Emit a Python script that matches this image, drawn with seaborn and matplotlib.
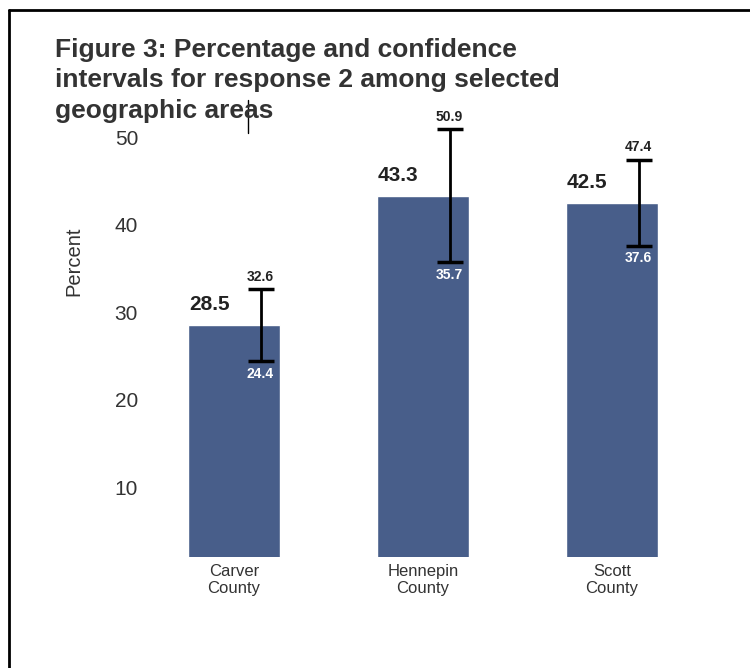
import matplotlib
matplotlib.use('Agg')
import matplotlib.pyplot as plt
import matplotlib.lines as mlines
import seaborn as sns
import pandas as pd

# Values
areas = ['Carver\nCounty', 'Hennepin\nCounty', 'Scott\nCounty']
percent = [28.5, 43.3, 42.5]
ci_low = [24.4, 35.7, 37.6]
ci_high = [32.6, 50.9, 47.4]
y_ticks = [10, 20, 30, 40, 50]
title_lines = ['Figure 3: Percentage and confidence',
               'intervals for response 2 among selected',
               'geographic areas']

bar_color = '#485E8A'
text_color = '#222222'

sns.set_theme(style='white')
plt.rcParams['font.family'] = ['Liberation Sans', 'DejaVu Sans']

df = pd.DataFrame({'area': areas, 'percent': percent})

W, H = 750, 668
fig = plt.figure(figsize=(7.5, 6.68), dpi=100)
ax = fig.add_axes([145 / W, (H - 557) / H, 535 / W, 447 / H])

sns.barplot(data=df, x='area', y='percent', color=bar_color, width=0.49,
            saturation=1, ax=ax)

# error bars sit a little right of each bar centre
offset = 0.141
for i in range(len(areas)):
    xe = i + offset
    ax.errorbar(xe, percent[i],
                yerr=[[percent[i] - ci_low[i]], [ci_high[i] - percent[i]]],
                fmt='none', ecolor='black', elinewidth=2, capsize=9.5, capthick=2.5)
    # bold value at the top-left of the bar
    ax.annotate(f'{percent[i]:.1f}', (i - 0.245, percent[i]), xytext=(1, 8),
                textcoords='offset points', ha='left', va='bottom',
                fontsize=15, fontweight='bold', color=text_color)
    ax.annotate(f'{ci_high[i]:.1f}', (xe, ci_high[i]), xytext=(0, 4),
                textcoords='offset points', ha='center', va='bottom',
                fontsize=10, fontweight='bold', color=text_color)
    ax.annotate(f'{ci_low[i]:.1f}', (xe, ci_low[i]), xytext=(0, -4),
                textcoords='offset points', ha='center', va='top',
                fontsize=10, fontweight='bold', color='white')

ax.set_xlim(-0.47, 2.36)
ax.set_ylim(2, 53.1)
ax.set_yticks(y_ticks)
ax.tick_params(axis='both', length=0)
ax.tick_params(axis='y', labelsize=15, pad=5, labelcolor='#333333')
ax.tick_params(axis='x', labelsize=12, pad=5, labelcolor='#333333')
ax.set_xlabel('')
ax.set_ylabel('Percent', fontsize=14.5, color='#333333')
ax.yaxis.set_label_coords(-0.116, 0.662)
sns.despine(ax=ax, left=True, bottom=True)

# title as three separate lines
for k, line in enumerate(title_lines):
    fig.text(55 / W, 1 - (57 + 30.5 * k) / H, line, ha='left', va='baseline',
             fontsize=19, fontweight='bold', color='#333333')

# text cursor left in the scanned original
fig.add_artist(mlines.Line2D([248 / W, 248 / W], [1 - 100 / H, 1 - 133 / H],
                             color='black', linewidth=1, transform=fig.transFigure))

# scan border: only top and left edges
fig.add_artist(mlines.Line2D([9 / W, 1], [1 - 10 / H, 1 - 10 / H], color='black',
                             linewidth=2, transform=fig.transFigure))
fig.add_artist(mlines.Line2D([9 / W, 9 / W], [0, 1 - 10 / H], color='black',
                             linewidth=2, transform=fig.transFigure))

fig.savefig('out.png', dpi=100)
